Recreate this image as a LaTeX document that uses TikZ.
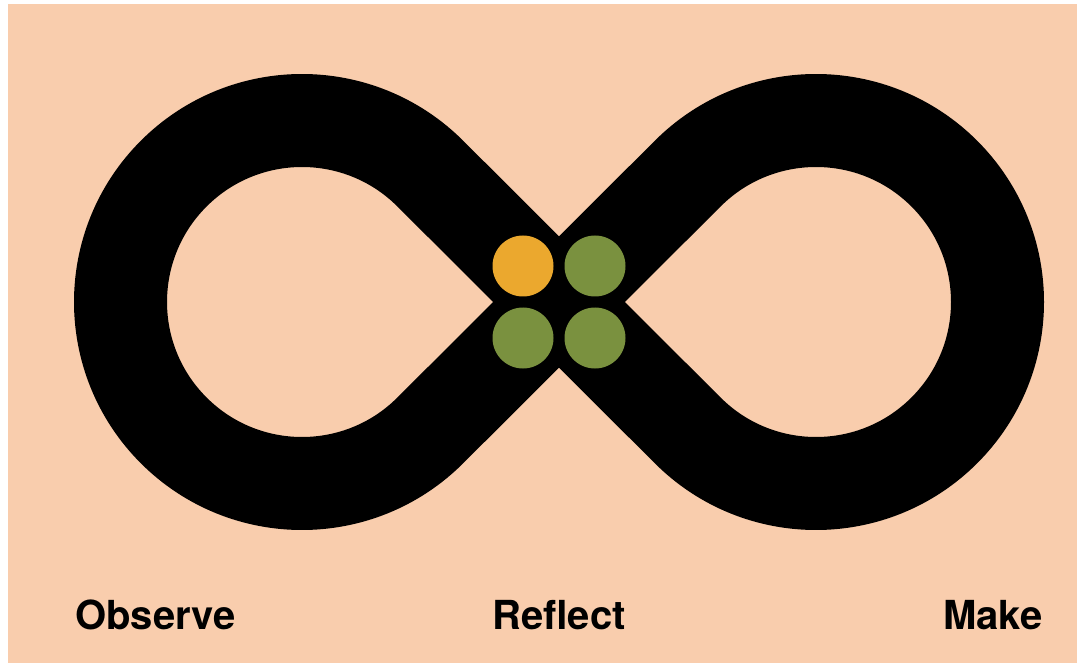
\documentclass[tikz,border=0pt]{standalone}
\usepackage{fontspec}
\setmainfont{TeX Gyre Heros}
\usetikzlibrary{positioning, calc}
\definecolor{peach}{RGB}{249,205,173}
\definecolor{amber}{RGB}{235,168,46}
\definecolor{olive}{RGB}{122,145,63}

\begin{document}
\begin{tikzpicture}[x=1pt, y=1pt,
    dot/.style={circle, fill, inner sep=0pt, minimum size=61pt},
    word/.style={font=\fontsize{40}{44}\selectfont\bfseries, inner sep=0pt}]
    \useasboundingbox (0,0) rectangle (1077,-663);
    \fill[white] (0,0) rectangle (1077,-663);
    \fill[peach] (8,-4) rectangle (1077,-663);
    % the loop
    \coordinate (lc) at (302,-302);
    \coordinate (rc) at (816,-302);
    \coordinate (x) at (559,-302);
    \draw[line width=93pt, line join=round]
        ($(lc)+(45:181.5)$) arc[start angle=45, end angle=315, radius=181.5]
        -- (x) -- ($(rc)+(135:181.5)$) arc[start angle=135, end angle=-135, radius=181.5]
        -- (x) -- cycle;
    % dots
    \node[dot, amber] (d1) at (523,-266) {};
    \node[dot, olive] (d2) at (595,-266) {};
    \node[dot, olive] (d3) at (523,-338) {};
    \node[dot, olive] (d4) at (595,-338) {};
    % labels
    \node[word, anchor=base west] (observe) at (75,-629) {Observe};
    \node[word, anchor=base] (reflect) at (559,-629) {Reflect};
    \node[word, anchor=base east] (make) at (1043,-629) {Make};
\end{tikzpicture}
\end{document}
